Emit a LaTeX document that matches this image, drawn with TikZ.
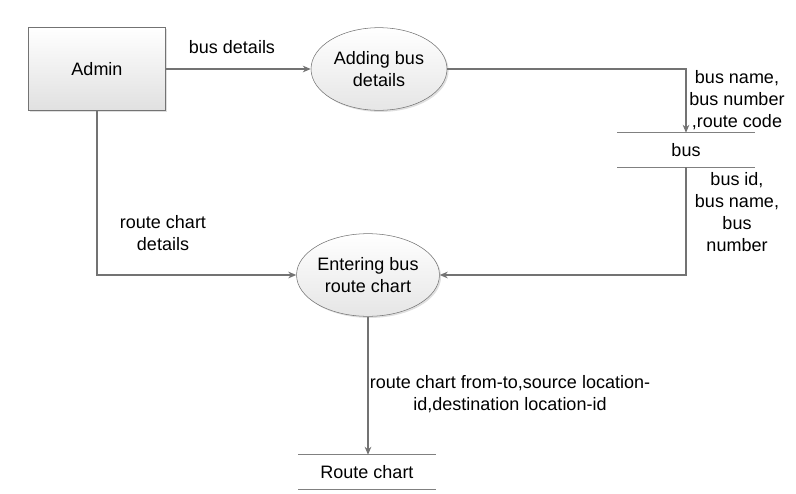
\documentclass[tikz,border=0pt]{standalone}
\usepackage{fontspec}
\setmainfont{Liberation Sans}
\usetikzlibrary{arrows.meta,positioning,shapes.geometric,shadows}
\tikzset{
  ent/.style={draw=black!55,top color=white,bottom color=black!12,
              minimum width=103pt,minimum height=62pt,
              drop shadow={shadow xshift=1.2pt,shadow yshift=-1.2pt,opacity=.25}},
  proc/.style={ellipse,draw=black!55,top color=white,bottom color=black!10,
               align=center,inner sep=0pt,minimum width=102pt,minimum height=62pt,
               drop shadow={shadow xshift=1.2pt,shadow yshift=-1.2pt,opacity=.25}},
  store/.style={minimum width=103pt,minimum height=25.5pt,inner sep=0pt},
  sline/.style={draw=black!50,line width=.8pt},
  ar/.style={-{Stealth[length=6pt,width=5pt]},draw=black!55,line width=.8pt},
  lbl/.style={align=center,inner sep=0pt},
}
\begin{document}
\begin{tikzpicture}[x=0.75pt,y=-0.75pt,font=\fontsize{13.5}{16.5}\selectfont]
  \useasboundingbox (0,0) rectangle (796,493);
  % external entity and processes
  \node[ent] (admin) at (97,69) {Admin};
  \node[proc] (addbus) at (379,69) {Adding bus\\details};
  \node[proc] (entbus) at (368,275) {Entering bus\\route chart};
  % data stores
  \node[store] (bus) at (686,150) {bus};
  \draw[sline] (bus.north west) -- (bus.north east)
               (bus.south west) -- (bus.south east);
  \node[store] (route) at (367,472) {Route chart};
  \draw[sline] (route.north west) -- (route.north east)
               (route.south west) -- (route.south east);
  % flows
  \draw[ar] (admin.east) -- (addbus.west);
  \draw[ar] (addbus.east) -| (bus.north);
  \draw[ar] (bus.south) |- (entbus.east);
  \draw[ar] (admin.south) |- (entbus.west);
  \draw[ar] (entbus.south) -- (entbus.south |- route.north);
  % flow labels
  \node[lbl] (lbus) at (232,47) {bus details};
  \node[lbl] (lbusin) at (737,100) {bus name,\\bus number\\,route code};
  \node[lbl] (lbusout) at (737,212) {bus id,\\bus name,\\bus\\number};
  \node[lbl] (lroute) at (163,233) {route chart\\details};
  \node[lbl] (lrc) at (510,394) {route chart from-to,source location-\\id,destination location-id};
\end{tikzpicture}
\end{document}
